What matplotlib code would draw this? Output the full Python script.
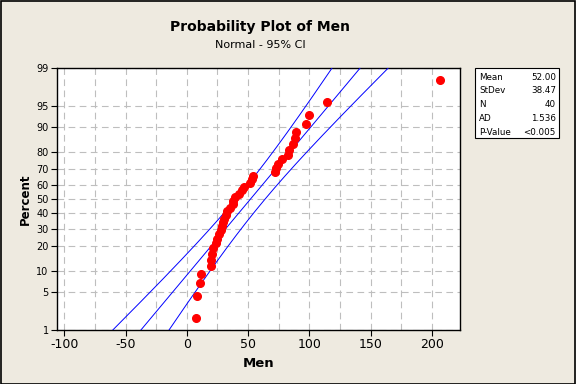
import matplotlib
matplotlib.use("Agg")
import matplotlib.pyplot as plt
import numpy as np
from statistics import NormalDist
from matplotlib.patches import Rectangle
from matplotlib.ticker import MultipleLocator

# sorted sample values
men = [7.8, 8.6, 11.1, 11.8, 20.0, 20.0, 20.6, 21.0, 23.6, 24.4,
       26.6, 27.7, 28.5, 29.8, 30.7, 32.0, 33.1, 35.0, 37.5, 38.0,
       39.4, 42.6, 44.8, 46.5, 51.6, 53.5, 54.4, 71.8, 72.9, 74.7,
       78.0, 82.9, 83.7, 87.0, 88.6, 89.2, 97.4, 100.0, 114.7, 207.0]

mean = 52.00
stdev = 38.47
n = 40
stat_labels = ["Mean", "StDev", "N", "AD", "P-Value"]
stat_values = ["52.00", "38.47", "40", "1.536", "<0.005"]
pct_ticks = [1, 5, 10, 20, 30, 40, 50, 60, 70, 80, 90, 95, 99]
x_ticks = [-100, -50, 0, 50, 100, 150, 200]

nd = NormalDist()
bg = "#EEEAE0"

fig = plt.figure(figsize=(5.76, 3.84), dpi=100, facecolor=bg)
ax = fig.add_axes([57 / 576, 1 - 330 / 384, 403 / 576, 262 / 384])
ax.set_facecolor("white")

# median rank (Benard) plotting positions
ranks = np.arange(1, n + 1)
pos = (ranks - 0.3) / (n + 0.4)
zpos = [nd.inv_cdf(p) for p in pos]

# fitted line and 95% CI
zlo, zhi = nd.inv_cdf(0.01), nd.inv_cdf(0.99)
zz = np.linspace(zlo, zhi, 200)
fit = mean + stdev * zz
se = stdev * np.sqrt(1 / n + zz ** 2 / (2 * n))
zc = nd.inv_cdf(0.975)
for line in (fit, fit - zc * se, fit + zc * se):
    ax.plot(line, zz, color="#0000FF", lw=0.7, zorder=3)

ax.plot(men, zpos, "o", color="#FF0000", ms=5.5, mec="#FF0000", zorder=4)

ax.set_ylim(zlo, zhi)
ax.set_yticks([nd.inv_cdf(p / 100) for p in pct_ticks])
ax.set_yticklabels([str(p) for p in pct_ticks], fontsize=7)
ax.set_xlim(-106, 223)
ax.set_xticks(x_ticks)
ax.set_xticklabels([str(t) for t in x_ticks], fontsize=9)
ax.xaxis.set_minor_locator(MultipleLocator(25))
ax.tick_params(which="minor", length=0)
ax.tick_params(which="major", length=4, width=0.8, pad=2)
ax.grid(True, which="both", color="#BEBEBE", ls=(0, (6, 4)), lw=0.8)
ax.set_axisbelow(True)
for s in ax.spines.values():
    s.set_linewidth(1.0)

ax.set_xlabel("Men", fontsize=9.5, fontweight="bold", labelpad=4)
ax.set_ylabel("Percent", fontsize=8.5, fontweight="bold", labelpad=3)

fig.text(260 / 576, 1 - 27 / 384, "Probability Plot of Men", ha="center",
         va="center", fontsize=10, fontweight="bold")
fig.text(260 / 576, 1 - 45 / 384, "Normal - 95% CI", ha="center",
         va="center", fontsize=8)

# stats box
fig.patches.append(Rectangle((475 / 576, 1 - 138 / 384), 84 / 576, 70 / 384,
                             transform=fig.transFigure, facecolor="white",
                             edgecolor="black", lw=0.8))
for i, (lab, val) in enumerate(zip(stat_labels, stat_values)):
    y = 1 - (77 + i * 13.8) / 384
    fig.text(479 / 576, y, lab, fontsize=6.3, va="center", ha="left")
    fig.text(556 / 576, y, val, fontsize=6.3, va="center", ha="right")

# outer frame
fig.patches.append(Rectangle((0.001, 0.001), 0.997, 0.997,
                             transform=fig.transFigure, fill=False,
                             edgecolor="black", lw=1.2))

fig.savefig("out.png", dpi=100, facecolor=bg)
